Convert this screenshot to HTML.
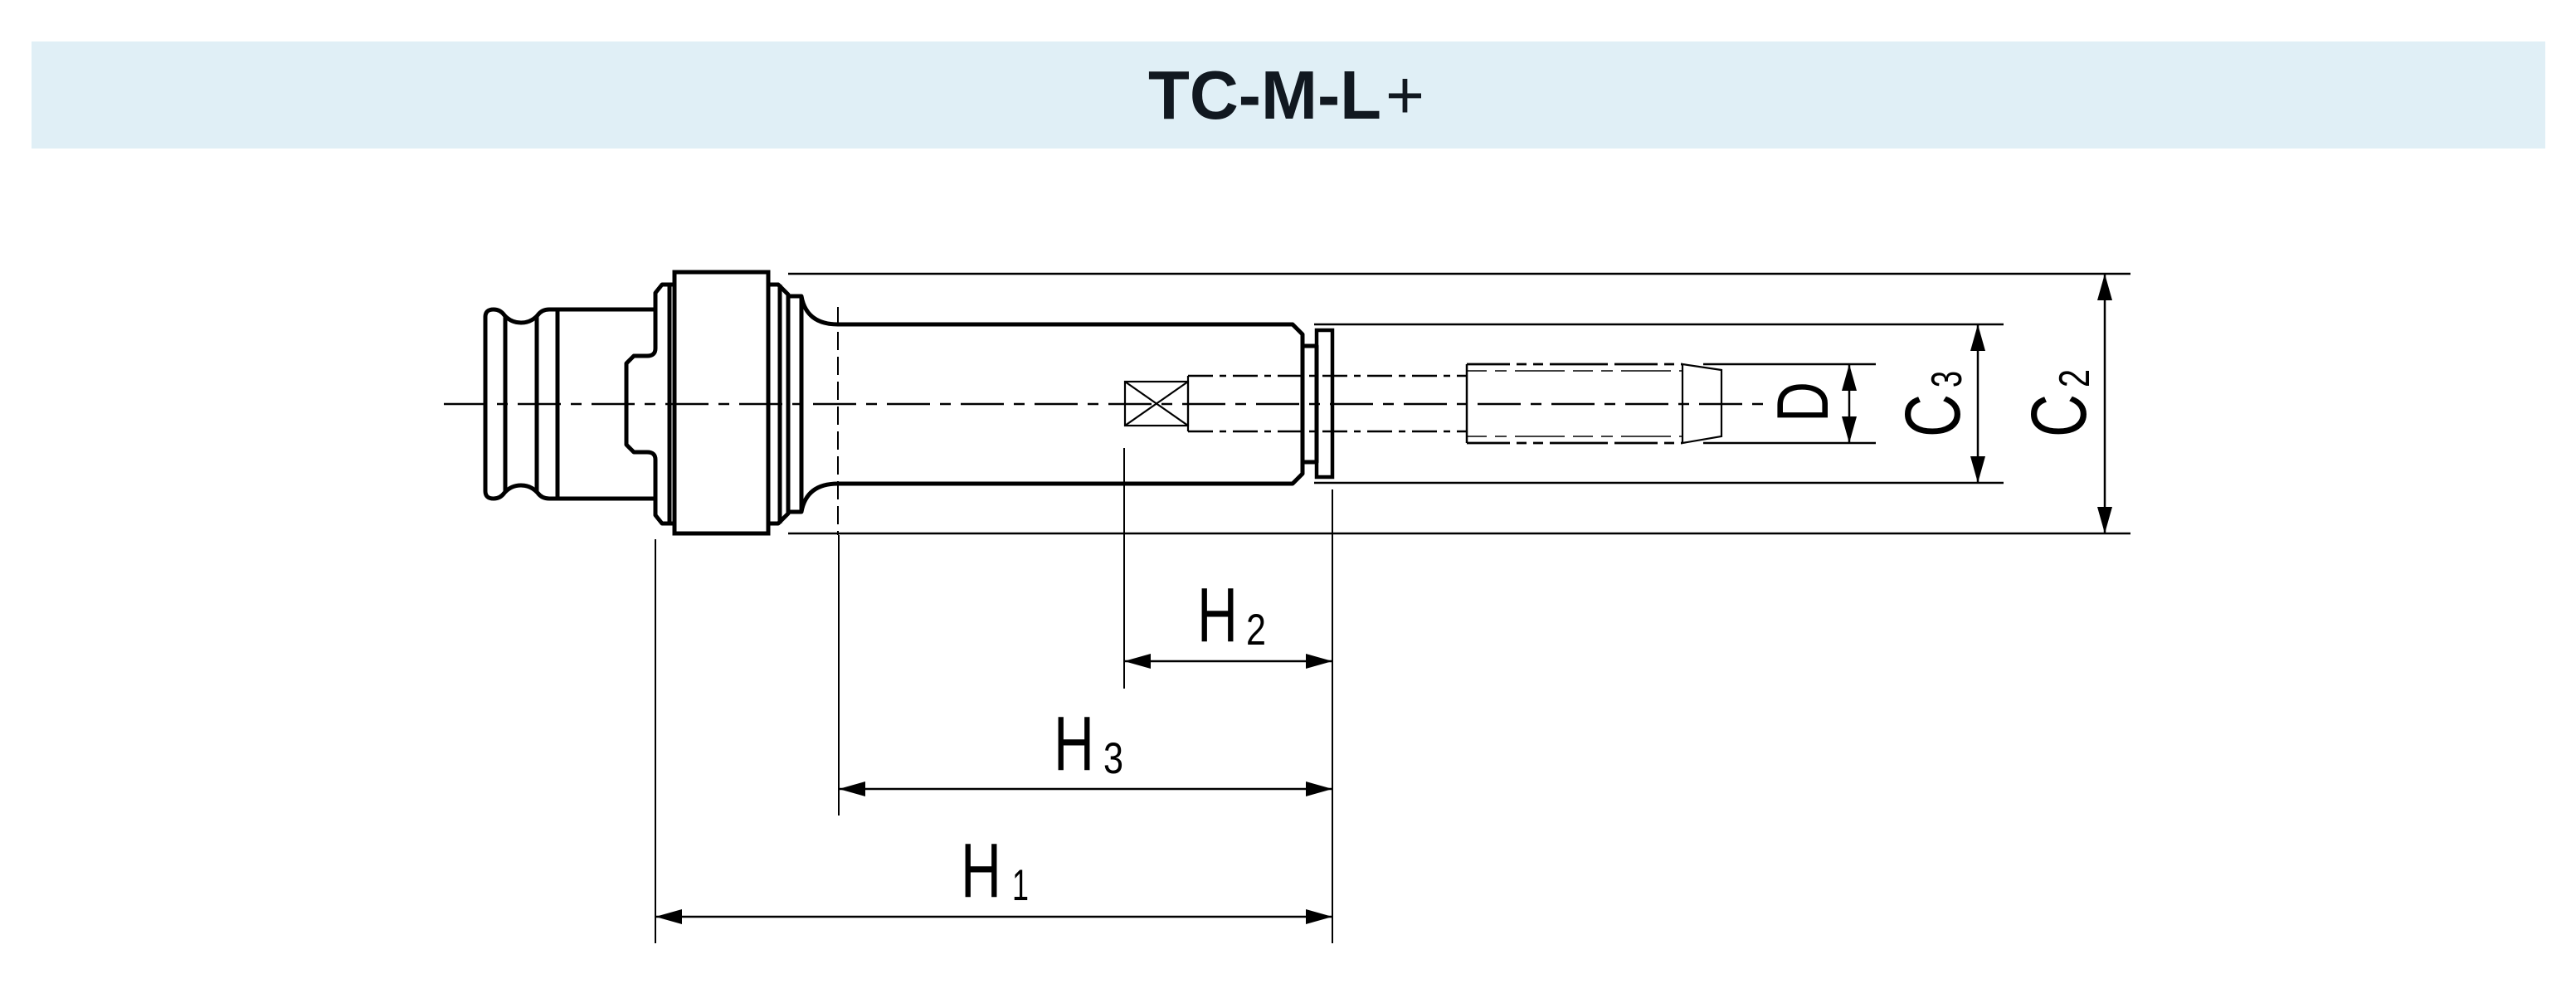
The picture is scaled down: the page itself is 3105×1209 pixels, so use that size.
<!DOCTYPE html>
<html><head><meta charset="utf-8"><style>
html,body{margin:0;padding:0;background:#fff;}
svg{display:block;}
</style></head><body>
<svg width="3105" height="1209" viewBox="0 0 3105 1209" xmlns="http://www.w3.org/2000/svg" font-family="Liberation Sans, sans-serif">
<rect x="38" y="50" width="3030" height="129" fill="#e0eff6"/>
<text x="1384" y="143" font-size="83" font-weight="bold" fill="#111820" textLength="281" lengthAdjust="spacingAndGlyphs">TC-M-L</text>
<text x="1670" y="143" font-size="83" fill="#111820" textLength="47" lengthAdjust="spacingAndGlyphs">+</text>

<!-- thick outline top half + mirrored -->
<g id="top" fill="none" stroke="#000" stroke-width="5" stroke-linejoin="round">
  <path d="M585 487 V382 Q585 373 595 373 Q603 373 608 380 Q616 389 628 389 Q640 389 648 380 Q653 373 662 373 H790"/>
  <line x1="609" y1="380" x2="609" y2="487"/>
  <line x1="647" y1="380" x2="647" y2="487"/>
  <line x1="672" y1="373" x2="672" y2="487"/>
  <path d="M790 373 V420 Q790 429 780 429 H764 L755 438 V487"/>
  <path d="M790 373 V353 L798 343 H813"/>
  <line x1="807" y1="343" x2="807" y2="487"/>
  <path d="M926 343 H938 L950 355 V487"/>
  <line x1="940" y1="343" x2="940" y2="487"/>
  <path d="M950 357 H966 V487"/>
  <path d="M966 357 Q972 391 1010 391 H1558 L1570 403 V487"/>
  <path d="M1570 417 H1587 V487"/>
</g>
<use href="#top" transform="translate(0,974) scale(1,-1)"/>
<rect x="813" y="328" width="113" height="315" fill="none" stroke="#000" stroke-width="5"/>
<rect x="1587" y="398" width="19" height="177" fill="none" stroke="#000" stroke-width="4.5"/>

<!-- centerline -->
<line x1="535" y1="487" x2="2130" y2="487" stroke="#000" stroke-width="2.5" stroke-dasharray="52 12 13 12"/>
<!-- dashed vertical -->
<line x1="1010" y1="370" x2="1010" y2="645" stroke="#000" stroke-width="2" stroke-dasharray="22 8"/>

<!-- cross box and bore -->
<g stroke="#000" fill="none" stroke-width="2.2">
  <rect x="1356" y="460" width="76" height="53"/>
  <line x1="1356" y1="460" x2="1432" y2="513"/>
  <line x1="1356" y1="513" x2="1432" y2="460"/>
  <line x1="1432" y1="453" x2="1432" y2="520"/>
  <line x1="1432" y1="453" x2="1768" y2="453" stroke-width="2.5" stroke-dasharray="30 8 8 8"/>
  <line x1="1432" y1="520" x2="1768" y2="520" stroke-width="2.5" stroke-dasharray="30 8 8 8"/>
  <line x1="1768" y1="439" x2="1768" y2="534" stroke-width="2.5"/>
  <line x1="2028" y1="439" x2="2028" y2="534"/>
  <line x1="1768" y1="439" x2="2028" y2="439" stroke-width="2.8" stroke-dasharray="52 8 12 8 12 8 70 8"/>
  <line x1="1768" y1="534" x2="2028" y2="534" stroke-width="2.8" stroke-dasharray="52 8 12 8 12 8 70 8"/>
  <line x1="1768" y1="447" x2="2028" y2="447" stroke-width="1.5" stroke-dasharray="24 10 14 10 60 10"/>
  <line x1="1768" y1="526" x2="2028" y2="526" stroke-width="1.5" stroke-dasharray="24 10 14 10 60 10"/>
  <path d="M2028 439 L2075 446 V526 L2028 534"/>
</g>

<!-- dimension / extension lines -->
<g stroke="#000" stroke-width="2.5" fill="none">
  <line x1="950" y1="330" x2="2568" y2="330"/>
  <line x1="950" y1="643" x2="2568" y2="643"/>
  <line x1="1584" y1="391" x2="2415" y2="391"/>
  <line x1="1584" y1="582" x2="2415" y2="582"/>
  <line x1="2053" y1="439" x2="2261" y2="439"/>
  <line x1="2053" y1="534" x2="2261" y2="534"/>
  <line x1="2229" y1="439" x2="2229" y2="534"/>
  <line x1="2384" y1="391" x2="2384" y2="582"/>
  <line x1="2537" y1="330" x2="2537" y2="643"/>
  <line x1="790" y1="650" x2="790" y2="1137" stroke-width="2"/>
  <line x1="1011" y1="645" x2="1011" y2="983" stroke-width="2"/>
  <line x1="1355" y1="540" x2="1355" y2="830" stroke-width="2"/>
  <line x1="1606" y1="590" x2="1606" y2="1137" stroke-width="2"/>
  <line x1="1355" y1="797" x2="1606" y2="797"/>
  <line x1="1011" y1="951" x2="1606" y2="951"/>
  <line x1="790" y1="1105" x2="1606" y2="1105"/>
</g>
<g fill="#000">
  <path d="M2229 439 l-9 32 h18z"/><path d="M2229 534 l-9 -32 h18z"/>
  <path d="M2384 391 l-9 32 h18z"/><path d="M2384 582 l-9 -32 h18z"/>
  <path d="M2537 330 l-9 32 h18z"/><path d="M2537 643 l-9 -32 h18z"/>
  <path d="M1355 797 l32 -9 v18z"/><path d="M1606 797 l-32 -9 v18z"/>
  <path d="M1011 951 l32 -9 v18z"/><path d="M1606 951 l-32 -9 v18z"/>
  <path d="M790 1105 l32 -9 v18z"/><path d="M1606 1105 l-32 -9 v18z"/>
</g>

<!-- labels -->
<g fill="#000">
  <text x="1443" y="773" font-size="93" textLength="49" lengthAdjust="spacingAndGlyphs">H</text>
  <text x="1502" y="777" font-size="53" textLength="24" lengthAdjust="spacingAndGlyphs">2</text>
  <text x="1270" y="928" font-size="93" textLength="49" lengthAdjust="spacingAndGlyphs">H</text>
  <text x="1330" y="932" font-size="53" textLength="24" lengthAdjust="spacingAndGlyphs">3</text>
  <text x="1158" y="1081" font-size="93" textLength="49" lengthAdjust="spacingAndGlyphs">H</text>
  <text x="1220" y="1085" font-size="53" textLength="20" lengthAdjust="spacingAndGlyphs">1</text>
  <text transform="translate(2203,509) rotate(-90)" font-size="88" textLength="49" lengthAdjust="spacingAndGlyphs">D</text>
  <text transform="translate(2362,527) rotate(-90)" font-size="95" textLength="52" lengthAdjust="spacingAndGlyphs">C</text>
  <text transform="translate(2364,467) rotate(-90)" font-size="52" textLength="20" lengthAdjust="spacingAndGlyphs">3</text>
  <text transform="translate(2514,527) rotate(-90)" font-size="95" textLength="52" lengthAdjust="spacingAndGlyphs">C</text>
  <text transform="translate(2518,467) rotate(-90)" font-size="52" textLength="22" lengthAdjust="spacingAndGlyphs">2</text>
</g>
</svg>
</body></html>
